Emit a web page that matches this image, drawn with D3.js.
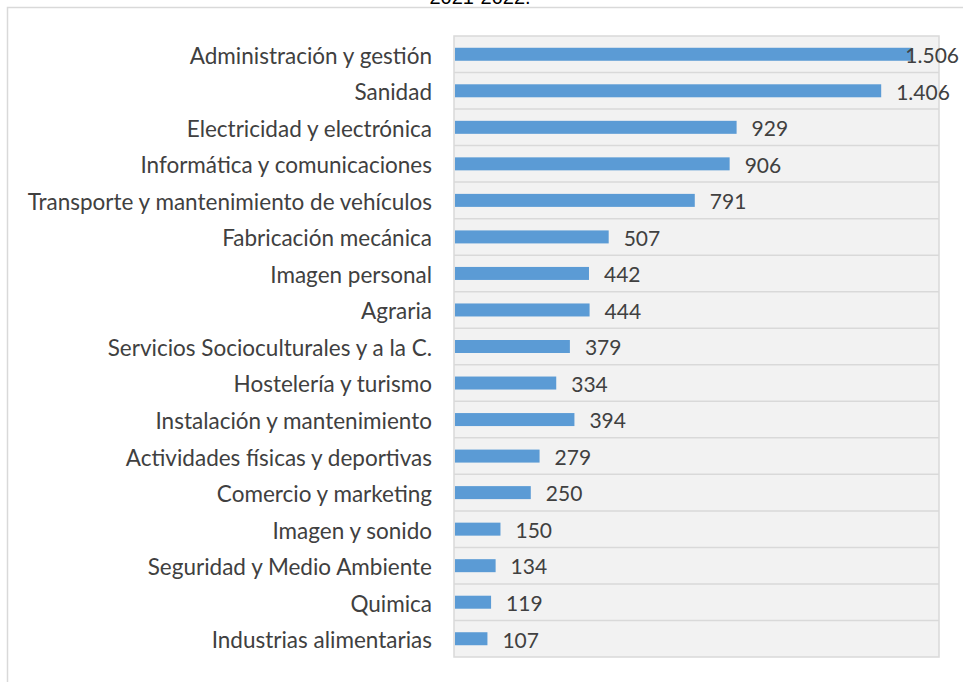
<!DOCTYPE html>
<html>
<head>
<meta charset="utf-8">
<script src="https://cdn.jsdelivr.net/npm/d3@7"></script>
<style>
  body { margin: 0; background: #fff; }
  text { font-family: Lato, "Open Sans", sans-serif; }
</style>
</head>
<body>
<svg></svg>
<script>
const width = 963;
const height = 682;

const categories = [
    "Administración y gestión",
    "Sanidad",
    "Electricidad y electrónica",
    "Informática y comunicaciones",
    "Transporte y mantenimiento de vehículos",
    "Fabricación mecánica",
    "Imagen personal",
    "Agraria",
    "Servicios Socioculturales y a la C.",
    "Hostelería y turismo",
    "Instalación y mantenimiento",
    "Actividades físicas y deportivas",
    "Comercio y marketing",
    "Imagen y sonido",
    "Seguridad y Medio Ambiente",
    "Quimica",
    "Industrias alimentarias"
];
const values = [1506, 1406, 929, 906, 791, 507, 442, 444, 379, 334, 394, 279, 250, 150, 134, 119, 107];
const titleText = "2021-2022.";

const svg = d3.select('svg')
    .attr('width', width).attr('height', height);

const plot = {left: 454, right: 939, top: 36, bottom: 657};

// outer frame (only top and left are visible)
svg.append('path')
    .attr('d', `M7.5,${height} V7.5 H${width}`)
    .attr('fill', 'none')
    .attr('stroke', '#d9d9d9')
    .attr('stroke-width', 1.5);

// title, cut off at the top like in the source
svg.append('text')
    .attr('x', 480).attr('y', 4)
    .attr('text-anchor', 'middle')
    .style('font-family', '"Liberation Sans", Arial, sans-serif')
    .style('font-size', '20px')
    .attr('fill', '#000')
    .text(titleText);

const x = d3.scaleLinear().domain([0, 1600]).range([plot.left + 1, plot.right + 1]);
const y = d3.scaleBand().domain(categories).range([plot.top, plot.bottom]);

// plot background
svg.append('rect')
    .attr('x', plot.left).attr('y', plot.top)
    .attr('width', plot.right - plot.left).attr('height', plot.bottom - plot.top)
    .attr('fill', '#f2f2f2')
    .attr('stroke', '#d9d9d9')
    .attr('stroke-width', 1.5);

// separators between categories
svg.append('g').selectAll('line')
    .data(categories.slice(1))
    .join('line')
    .attr('x1', plot.left).attr('x2', plot.right)
    .attr('y1', d => y(d)).attr('y2', d => y(d))
    .attr('stroke', '#d9d9d9')
    .attr('stroke-width', 1.5);

// category labels
svg.append('g').selectAll('text')
    .data(categories)
    .join('text')
    .attr('x', 432)
    .attr('y', d => y(d) + y.bandwidth() / 2)
    .attr('dy', '0.42em')
    .attr('text-anchor', 'end')
    .attr('fill', '#404040')
    .style('font-size', '22.5px')
    .text(d => d);

const barH = 13;
svg.append('g').selectAll('rect')
    .data(values)
    .join('rect')
    .attr('x', x(0))
    .attr('y', (d, i) => y(categories[i]) + y.bandwidth() / 2 - barH / 2)
    .attr('width', d => x(d) - x(0))
    .attr('height', barH)
    .attr('fill', '#5b9bd5');

// value labels, pushed back inside the right edge when they overflow
const fmt = v => d3.format(',')(v).replace(/,/g, '.');
svg.append('g').selectAll('text')
    .data(values)
    .join('text')
    .attr('y', (d, i) => y(categories[i]) + y.bandwidth() / 2)
    .attr('dy', '0.42em')
    .attr('fill', '#404040')
    .style('font-size', '21px')
    .text(fmt)
    .attr('x', function (d) {
        const w = this.getComputedTextLength();
        return Math.min(x(d) + 15, 959 - w);
    });
</script>
</body>
</html>
